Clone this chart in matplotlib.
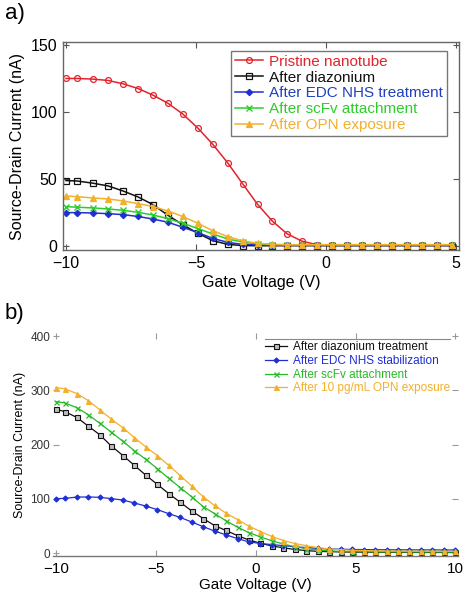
import matplotlib
matplotlib.use("Agg")
import matplotlib.pyplot as plt

plt.rcParams['font.family'] = ['Liberation Sans', 'DejaVu Sans']

# ---------------- data ----------------
gate_v = [-10.0, -9.57, -8.95, -8.38, -7.80, -7.23, -6.65, -6.08, -5.51, -4.93,
          -4.36, -3.78, -3.21, -2.63, -2.06, -1.49, -0.91, -0.34, 0.24, 0.81,
          1.39, 1.96, 2.53, 3.11, 3.68, 4.26, 4.83, 5.40, 5.98, 6.55,
          7.13, 7.70, 8.28, 8.85, 9.42, 10.0]

# panel a (first 27 gate voltages)
a_labels = ["Pristine nanotube", "After diazonium", "After EDC NHS treatment",
            "After scFv attachment", "After OPN exposure"]
a_pristine = [125, 125, 124.5, 123.5, 121, 117.5, 112.5, 106.5, 98.5, 88,
              76, 62, 46.5, 31, 18.5, 9, 3.5, 1, 0.5, 0.5,
              0.5, 0.5, 0.5, 0.5, 0.5, 0.5, 0.5]
a_diazonium = [48.8, 48.5, 46.8, 44.8, 41, 36.6, 30.8, 22.9, 15.9, 9.5,
               4, 1.2, 0.3, 0.2, 0.2, 0.2, 0.2, 0.2, 0.2, 0.2,
               0.2, 0.2, 0.2, 0.2, 0.2, 0.2, 0.2]
a_edc = [24.9, 24.9, 24.6, 24.1, 23.4, 22, 20.1, 17.7, 14, 10,
         5.7, 2.7, 1.2, 0.8, 0.6, 0.6, 0.6, 0.6, 0.6, 0.6,
         0.6, 0.6, 0.6, 0.6, 0.6, 0.6, 0.6]
a_scfv = [29.4, 28.9, 28.4, 27.6, 26.6, 25.1, 23.1, 20.4, 17, 13,
          9, 5.2, 3, 1.5, 1, 0.7, 0.7, 0.7, 0.7, 0.7,
          0.7, 0.7, 0.7, 0.7, 0.7, 0.7, 0.7]
a_opn = [37.3, 36.8, 35.8, 35.1, 33.6, 31.6, 29.4, 26.1, 22, 17,
         11.4, 7, 3.8, 2, 1.2, 1, 1, 1, 1, 1,
         1, 1, 1, 1, 1, 1, 1]

# panel b
b_labels = ["After diazonium treatment", "After EDC NHS stabilization",
            "After scFv attachment", "After 10 pg/mL OPN exposure"]
b_diazonium = [265, 261, 250, 234, 218, 197.5, 180, 162, 144, 127,
               110, 94, 78, 64, 51, 42, 32.5, 24.5, 18.4, 13.5,
               10, 7, 5, 3.5, 3, 2.5, 2.2, 2, 2, 1.8,
               1.8, 1.6, 1.6, 1.5, 1.5, 1.5]
b_edc = [100.6, 101, 103.5, 103.7, 103, 100.6, 98, 92.6, 87, 80.4,
         73, 66, 57.7, 49, 41, 34, 27, 21, 18, 16,
         14, 12, 10.5, 9, 8, 7.5, 7, 6.8, 6.6, 6.5,
         6.4, 6.3, 6.2, 6.2, 6.1, 6]
b_scfv = [279, 277, 268, 255, 239, 223, 206, 189, 173, 156,
          138, 121, 104, 86, 73, 60, 48, 38, 30, 23,
          17, 12, 8.6, 6, 4.5, 3.5, 3, 2.8, 2.6, 2.5,
          2.5, 2.4, 2.3, 2.3, 2.2, 2.2]
b_opn = [305, 303, 294, 281, 264, 247, 231, 213, 196, 180,
         162, 143, 124, 104, 88, 74, 62, 50, 40, 31,
         23.5, 18, 14, 10.5, 8, 6.5, 5.5, 5, 4.5, 4.2,
         4, 4, 3.8, 3.8, 3.6, 3.6]

RED = '#e3232b'
BLACK = '#111111'
BLUE = '#1f2fd0'
GREEN = '#2dcc2d'
ORANGE = '#f2b02c'

fig = plt.figure(figsize=(4.72, 6.03), dpi=100)

# ---------------- panel a ----------------
axa = fig.add_axes([63/472, 1-250/603, 396/472, 208/603])
xa = gate_v[:len(a_pristine)]
ms = 4.2
axa.plot(xa, a_pristine, '-o', color=RED, mfc='none', ms=ms, lw=1.1, mew=0.9, label=a_labels[0])
axa.plot(xa, a_diazonium, '-s', color=BLACK, mfc='none', ms=ms, lw=1.1, mew=0.9, label=a_labels[1])
axa.plot(xa, a_edc, '-D', color=BLUE, mfc=BLUE, ms=3.2, lw=1.1, mew=0.9, label=a_labels[2])
axa.plot(xa, a_scfv, '-x', color=GREEN, ms=ms, lw=1.1, mew=1.0, label=a_labels[3])
axa.plot(xa, a_opn, '-^', color=ORANGE, mfc=ORANGE, ms=ms, lw=1.1, mew=0.9, label=a_labels[4])
axa.set_xlim(-10.115, 5.115)
axa.set_ylim(-3, 152.2)
axa.set_xticks([-10, -5, 0, 5])
axa.set_yticks([0, 50, 100, 150])
axa.tick_params(direction='in', top=True, right=True, length=4, width=0.8,
                color='#555555', labelsize=11.5, pad=4)
for s in axa.spines.values():
    s.set_color('#666666')
    s.set_linewidth(1.0)
axa.set_xlabel('Gate Voltage (V)', fontsize=11.5, labelpad=3)
axa.set_ylabel('Source-Drain Current (nA)', fontsize=11.5, labelpad=4)
lega = axa.legend(loc='upper right', bbox_to_anchor=(0.970, 0.957), fontsize=11,
                  frameon=True, fancybox=False, edgecolor='#555555',
                  handlelength=1.8, handletextpad=0.45, labelspacing=0.12,
                  borderpad=0.25, borderaxespad=0)
lega.get_frame().set_linewidth(1.0)
for txt, col in zip(lega.get_texts(), [RED, BLACK, '#2040c0', GREEN, ORANGE]):
    txt.set_color(col)
fig.text(5/472, 1-14/603, 'a)', fontsize=16, va='center', ha='left')

# ---------------- panel b ----------------
axb = fig.add_axes([53/472, 1-556/603, 405/472, 222.7/603])
ms_b = 3.6
axb.plot(gate_v, b_diazonium, '-s', color=BLACK, mfc='#bdbdbd', mec=BLACK, ms=ms_b, lw=0.9, mew=0.8, label=b_labels[0])
axb.plot(gate_v, b_edc, '-D', color=BLUE, mfc=BLUE, ms=2.6, lw=0.9, mew=0.8, label=b_labels[1])
axb.plot(gate_v, b_scfv, '-x', color='#28b828', ms=ms_b, lw=0.9, mew=0.9, label=b_labels[2])
axb.plot(gate_v, b_opn, '-^', color=ORANGE, mfc=ORANGE, ms=ms_b, lw=0.9, mew=0.8, label=b_labels[3])
axb.set_xlim(-10.15, 10.13)
axb.set_ylim(-5, 405)
axb.set_xticks([-10, -5, 0, 5, 10])
axb.set_yticks([0, 100, 200, 300, 400])
for side in ['left', 'top', 'right']:
    axb.spines[side].set_visible(False)
axb.spines['bottom'].set_color('#777777')
axb.spines['bottom'].set_linewidth(1.0)
axb.tick_params(direction='in', top=True, right=True, length=4, width=0.8, color='#999999')
axb.tick_params(axis='x', labelsize=11, pad=4)
axb.tick_params(axis='y', labelsize=8.5, pad=2, labelcolor='#333333')
axb.set_xlabel('Gate Voltage (V)', fontsize=11, labelpad=2)
axb.set_ylabel('Source-Drain Current (nA)', fontsize=9, labelpad=3)
legb = axb.legend(loc='upper left', bbox_to_anchor=(0.523, 0.965), fontsize=8.5,
                  frameon=False, handlelength=1.9, handletextpad=0.5,
                  labelspacing=0.15, borderpad=0, borderaxespad=0)
for txt, col in zip(legb.get_texts(), [BLACK, BLUE, '#28b828', ORANGE]):
    txt.set_color(col)
axb.plot([0.523, 0.980], [0.974, 0.974], transform=axb.transAxes, color='#888888',
         lw=0.8, clip_on=False)
fig.text(5/472, 1-313/603, 'b)', fontsize=16, va='center', ha='left')

fig.savefig('out.png', dpi=100)
